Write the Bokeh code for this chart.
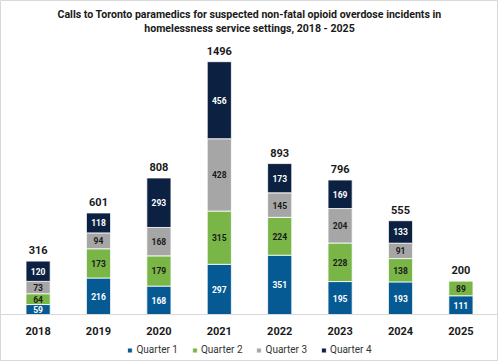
from bokeh.plotting import figure
from bokeh.models import ColumnDataSource, LabelSet, Label, Legend, LegendItem, Range1d, FactorRange, Span
from bokeh.embed import file_html
from bokeh.resources import INLINE
from bokeh.core.properties import value

years = ["2018", "2019", "2020", "2021", "2022", "2023", "2024", "2025"]
q1 = [59, 216, 168, 297, 351, 195, 193, 111]
q2 = [64, 173, 179, 315, 224, 228, 138, 89]
q3 = [73, 94, 168, 428, 145, 204, 91, 0]
q4 = [120, 118, 293, 456, 173, 169, 133, 0]
series_names = ["Quarter 1", "Quarter 2", "Quarter 3", "Quarter 4"]
title_lines = ["Calls to Toronto paramedics for suspected non-fatal opioid overdose incidents in",
               "homelessness service settings, 2018 - 2025"]
colors = ["#065a93", "#79b547", "#a6a6a6", "#0c2142"]
label_colors = ["#ffffff", "#1a1a1a", "#1a1a1a", "#ffffff"]

totals = [a + b + c + d for a, b, c, d in zip(q1, q2, q3, q4)]

FONT = "Roboto"
p = figure(width=498, height=361,
           x_range=FactorRange(*years, range_padding=0.0306, range_padding_units="percent"),
           y_range=Range1d(-278, 1858),
           output_backend="svg", toolbar_location=None,
           min_border_left=0, min_border_right=0, min_border_top=0, min_border_bottom=0)

p.outline_line_color = "#d9d9d9"
p.outline_line_width = 1
p.xgrid.grid_line_color = None
p.ygrid.grid_line_color = None
p.xaxis.visible = False
p.yaxis.visible = False
p.background_fill_color = "white"
p.border_fill_color = "white"

# two-line centred title (screen y measured from the frame bottom)
for line, ys in zip(title_lines, [347, 333]):
    p.add_layout(Label(x=4, y=ys, y_units="screen", text=line, text_align="center",
                       text_baseline="middle", text_font=FONT, text_font_size="10.6px",
                       text_font_style="bold", text_color="#1a1a1a"))

p.add_layout(Span(location=0, dimension="width", line_color="#d9d9d9", line_width=1))

series = [q1, q2, q3, q4]
data = {"year": years}
for i, s in enumerate(series):
    data[f"q{i+1}"] = s
src = ColumnDataSource(data)
renderers = p.vbar_stack([f"q{i+1}" for i in range(4)], x="year", width=0.4, source=src,
                         color=colors, line_color="white", line_width=0.8)

# segment labels
for i, s in enumerate(series):
    bottoms = [sum(series[k][j] for k in range(i)) for j in range(len(years))]
    mids = [b + v / 2 for b, v in zip(bottoms, s)]
    xs = [y for y, v in zip(years, s) if v > 0]
    ys = [m for m, v in zip(mids, s) if v > 0]
    txt = [str(v) for v in s if v > 0]
    lsrc = ColumnDataSource(dict(x=xs, y=ys, t=txt))
    p.add_layout(LabelSet(x="x", y="y", text="t", source=lsrc, text_align="center",
                          text_baseline="middle", text_font=value(FONT), text_font_style="bold",
                          text_font_size="8.5px", text_color=label_colors[i]))

tsrc = ColumnDataSource(dict(x=years, y=totals, t=[str(t) for t in totals]))
p.add_layout(LabelSet(x="x", y="y", text="t", source=tsrc, text_align="center",
                      text_baseline="bottom", y_offset=7, text_font=value(FONT),
                      text_font_style="bold", text_font_size="11px", text_color="#1a1a1a"))

# category labels under the baseline
ysrc = ColumnDataSource(dict(x=years, y=[0] * len(years), t=years))
p.add_layout(LabelSet(x="x", y="y", text="t", source=ysrc, text_align="center",
                      text_baseline="middle", y_offset=-16, text_font=value(FONT),
                      text_font_style="bold", text_font_size="11px", text_color="#1a1a1a"))

legend = Legend(items=[LegendItem(label=n, renderers=[r]) for n, r in zip(series_names, renderers)],
                orientation="horizontal", location="bottom_center", border_line_color=None,
                background_fill_alpha=0,
                label_text_font=FONT, label_text_font_size="10px", label_text_color="#333333",
                label_height=10, glyph_width=6, glyph_height=6, spacing=13, label_standoff=4,
                padding=0, margin=6)
p.add_layout(legend)

open("out.html", "w").write(file_html(p, INLINE))
